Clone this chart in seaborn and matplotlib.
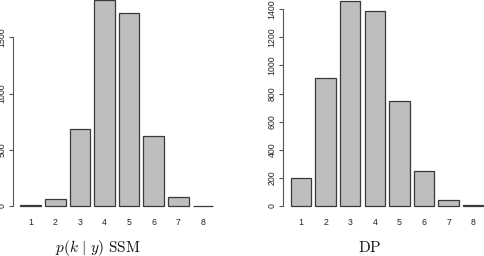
import matplotlib
matplotlib.use("Agg")
import matplotlib.pyplot as plt
import seaborn as sns
import pandas as pd

sns.set_theme(style="white")
plt.rcParams['font.family'] = ['Liberation Sans', 'DejaVu Sans']
plt.rcParams['mathtext.fontset'] = 'cm'

categories = ["1", "2", "3", "4", "5", "6", "7", "8"]
ssm_values = [5, 65, 682, 1835, 1713, 619, 83, 3]
dp_values = [202, 911, 1462, 1386, 747, 247, 40, 5]
ssm_yticks = [0, 500, 1000, 1500]
dp_yticks = [0, 200, 400, 600, 800, 1000, 1200, 1400]

W, H = 484, 256
fig = plt.figure(figsize=(W / 100, H / 100), dpi=100)

fill = "#BEBEBE"
edge = "#3a3a3a"


def panel(rect_px, values, yticks, xlim, ylim, title, title_x):
    l, t, r, b = rect_px
    ax = fig.add_axes([l / W, 1 - b / H, (r - l) / W, (b - t) / H])
    df = pd.DataFrame({"k": categories, "n": values})
    sns.barplot(data=df, x="k", y="n", order=categories, color=fill,
                saturation=1, width=0.833, edgecolor=edge, linewidth=0.9,
                ax=ax, errorbar=None)
    ax.set_xlim(*xlim)
    ax.set_ylim(*ylim)
    ax.set_xlabel("")
    ax.set_ylabel("")
    for s in ["top", "right", "bottom"]:
        ax.spines[s].set_visible(False)
    ax.spines["left"].set_bounds(yticks[0], yticks[-1])
    ax.spines["left"].set_color("#555555")
    ax.spines["left"].set_linewidth(0.8)
    ax.set_yticks(yticks)
    ax.set_yticklabels([str(v) for v in yticks], rotation=90, va="center",
                       fontsize=6.3, color="#222222")
    ax.tick_params(axis="y", length=3, width=0.8, color="#555555", pad=1.5, left=True)
    ax.tick_params(axis="x", length=0, pad=4, labelsize=6.3, labelcolor="#222222")
    ax.patch.set_alpha(0)
    for p in ax.patches:
        p.set_clip_on(False)
    fig.text(title_x / W, 1 - 248 / H, title, ha="center", va="center",
             fontsize=11, color="#111111")
    return ax


# left panel
panel((13, 0, 240, 212), ssm_values, ssm_yticks,
      (-0.72, 8.51), (-53, 1831), r"$p(k\ |\ y)\ \mathrm{SSM}$", 98)
# right panel
panel((282.7, 0, 484, 212), dp_values, dp_yticks,
      (-0.744, 7.44), (-42.7, 1466), r"$\mathrm{DP}$", 370)

fig.savefig("out.png", dpi=100)
